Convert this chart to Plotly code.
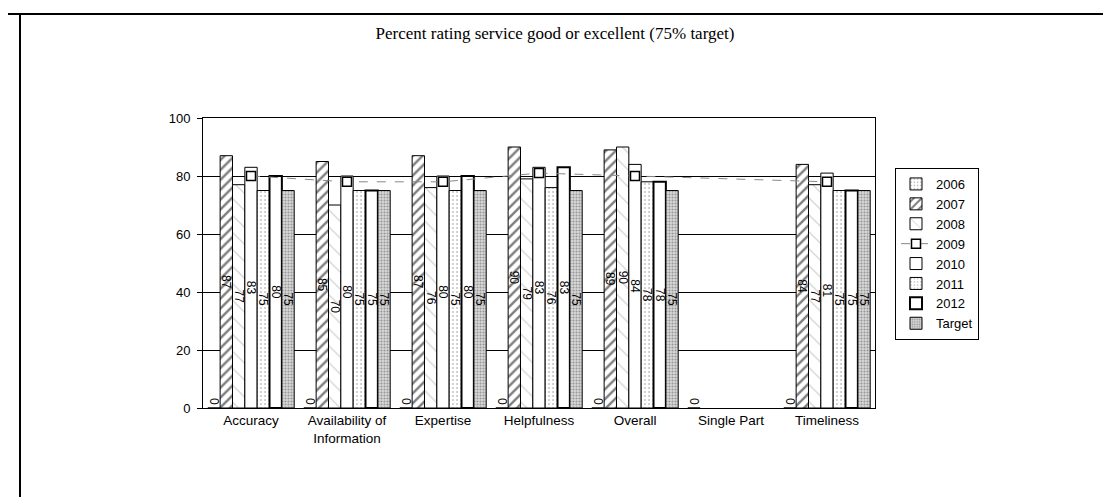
import plotly.graph_objects as go

CATEGORIES = [
    "Accuracy",
    "Availability of<br>Information",
    "Expertise",
    "Helpfulness",
    "Overall",
    "Single Part",
    "Timeliness",
]

V2006 = [0, 0, 0, 0, 0, 0, 0]
V2007 = [87, 85, 87, 90, 89, None, 84]
V2008 = [77, 70, 76, 79, 90, None, 77]
V2009 = [80, 78, 78, 81, 80, None, 78]
V2010 = [83, 80, 80, 83, 84, None, 81]
V2011 = [75, 75, 75, 76, 78, None, 75]
V2012 = [80, 75, 80, 83, 78, None, 75]
TARGET = [75, 75, 75, 75, 75, None, 75]

Y_TICKS = [0, 20, 40, 60, 80, 100]

SANS = "Arial, Liberation Sans, sans-serif"
SERIF = "Times New Roman, Liberation Serif, serif"

# plot area in pixels: x 195..867, y 110..400
L, R, T, B = 195, 244, 110, 97
W, H = 1111, 497
PW, PH = W - L - R, H - T - B


def px_x(x):
    return (x - L) / PW


def px_y(y):
    return (H - B - y) / PH


def label(vals):
    return ["" if v is None else str(v) for v in vals]


def bar(name, vals, pattern=None, line_width=1.0, text_pos="inside"):
    marker = {"color": "white", "line": {"color": "black", "width": line_width}}
    if pattern:
        marker["pattern"] = pattern
    return go.Bar(
        name=name,
        x=CATEGORIES,
        y=vals,
        marker=marker,
        text=label(vals),
        textposition=text_pos,
        insidetextanchor="middle",
        textangle=90,
        textfont={"color": "black", "size": 12, "family": SANS},
        cliponaxis=False,
    )


fig = go.Figure()
fig.add_trace(
    bar("2006", V2006, {"shape": ".", "fgcolor": "#888", "bgcolor": "white", "size": 4, "solidity": 0.25},
        text_pos="outside")
)
fig.add_trace(
    bar("2007", V2007, {"shape": "/", "fgcolor": "black", "bgcolor": "white", "size": 7, "solidity": 0.35})
)
fig.add_trace(
    bar("2008", V2008, {"shape": "\\", "fgcolor": "#999", "bgcolor": "white", "size": 12, "solidity": 0.1})
)
fig.add_trace(
    go.Scatter(
        name="2009",
        x=CATEGORIES,
        y=V2009,
        mode="lines+markers",
        connectgaps=True,
        line={"color": "#888", "width": 1, "dash": "dash"},
        marker={"symbol": "square", "size": 9, "color": "white", "line": {"color": "black", "width": 1.5}},
    )
)
fig.add_trace(bar("2010", V2010))
fig.add_trace(
    bar("2011", V2011, {"shape": ".", "fgcolor": "#888", "bgcolor": "white", "size": 4, "solidity": 0.2})
)
fig.add_trace(bar("2012", V2012, line_width=2))
fig.add_trace(
    bar("Target", TARGET, {"shape": ".", "fgcolor": "#555", "bgcolor": "#d8d8d8", "size": 3, "solidity": 0.4})
)

fig.update_layout(
    width=W,
    height=H,
    margin={"l": L, "r": R, "t": T, "b": B},
    paper_bgcolor="white",
    plot_bgcolor="white",
    barmode="group",
    bargap=0.1,
    bargroupgap=0,
    uniformtext={"minsize": 12, "mode": "show"},
    title={
        "text": "Percent rating service good or excellent (75% target)",
        "font": {"family": SERIF, "size": 17, "color": "black"},
        "x": 547 / W,
        "xanchor": "center",
        "y": 1 - 25 / H,
        "yanchor": "middle",
    },
    font={"family": SANS, "size": 12, "color": "black"},
    showlegend=True,
    legend={
        "x": px_x(887),
        "y": px_y(160),
        "xanchor": "left",
        "yanchor": "top",
        "bordercolor": "black",
        "borderwidth": 1,
        "bgcolor": "white",
        "font": {"family": SANS, "size": 13, "color": "black"},
        "traceorder": "normal",
        "entrywidth": 75,
    },
    xaxis={
        "showgrid": False,
        "showline": True,
        "linecolor": "black",
        "linewidth": 1,
        "mirror": True,
        "ticks": "",
        "tickfont": {"family": SANS, "size": 13.5, "color": "black"},
    },
    yaxis={
        "range": [0, 100],
        "tickvals": Y_TICKS,
        "showgrid": True,
        "gridcolor": "black",
        "gridwidth": 1,
        "zeroline": False,
        "showline": True,
        "linecolor": "black",
        "linewidth": 1,
        "mirror": True,
        "ticks": "outside",
        "ticklen": 5,
        "tickcolor": "black",
        "ticklabelstandoff": 4,
        "tickfont": {"family": SANS, "size": 13, "color": "black"},
    },
    shapes=[
        # page frame from the scan: top and left rules
        {"type": "line", "xref": "paper", "yref": "paper",
         "x0": px_x(0), "x1": px_x(W), "y0": px_y(6), "y1": px_y(6),
         "line": {"color": "black", "width": 2}},
        {"type": "line", "xref": "paper", "yref": "paper",
         "x0": px_x(12), "x1": px_x(12), "y0": px_y(6), "y1": px_y(H),
         "line": {"color": "black", "width": 2}},
    ],
)

fig.write_html("out.html")
